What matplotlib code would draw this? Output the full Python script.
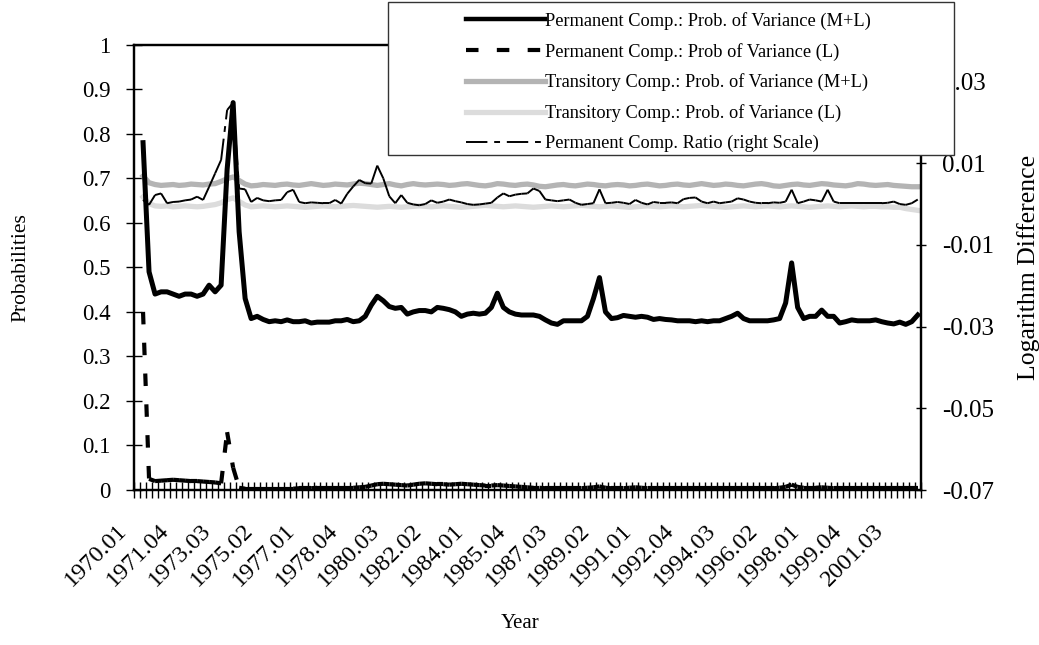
import numpy as np
import matplotlib
matplotlib.use("Agg")
import matplotlib.pyplot as plt
from matplotlib.lines import Line2D
from matplotlib.patches import Rectangle
from matplotlib.collections import LineCollection
from matplotlib.transforms import ScaledTranslation

plt.rcParams['font.family'] = ['Liberation Serif', 'DejaVu Serif']

# quarterly categories 1970.01 .. 2002.03 (series start at 1970.02)
quarters = [f"{1970 + k // 4}.{k % 4 + 1:02d}" for k in range(131)]

# Permanent comp.: prob. of variance (M+L)
perm_ml = [0.78, 0.49, 0.44, 0.445, 0.445, 0.44, 0.435, 0.44, 0.44, 0.435,
           0.44, 0.46, 0.445, 0.46, 0.72, 0.87, 0.58, 0.43, 0.385, 0.39,
           0.383, 0.378, 0.38, 0.378, 0.382, 0.378, 0.378, 0.38, 0.375, 0.377,
           0.377, 0.377, 0.38, 0.38, 0.383, 0.378, 0.38, 0.39, 0.415, 0.435,
           0.425, 0.412, 0.408, 0.41, 0.395, 0.40, 0.403, 0.403, 0.40, 0.41,
           0.408, 0.405, 0.40, 0.39, 0.395, 0.397, 0.395, 0.397, 0.41, 0.442,
           0.41, 0.40, 0.395, 0.393, 0.393, 0.393, 0.39, 0.382, 0.375, 0.372,
           0.38, 0.38, 0.38, 0.38, 0.39, 0.43, 0.477, 0.40, 0.385, 0.387,
           0.392, 0.39, 0.388, 0.39, 0.388, 0.383, 0.385, 0.383, 0.382, 0.38,
           0.38, 0.38, 0.378, 0.38, 0.378, 0.38, 0.38, 0.385, 0.39, 0.397,
           0.385, 0.38, 0.38, 0.38, 0.38, 0.382, 0.385, 0.42, 0.51, 0.41,
           0.385, 0.39, 0.39, 0.404, 0.39, 0.39, 0.375, 0.378, 0.382, 0.38,
           0.38, 0.38, 0.382, 0.378, 0.375, 0.373, 0.377, 0.372, 0.378, 0.393]

# Permanent comp.: prob of variance (L)
perm_l = [0.40, 0.025, 0.02, 0.021, 0.022, 0.023, 0.022, 0.021, 0.02, 0.02,
          0.019, 0.018, 0.017, 0.015, 0.13, 0.05, 0.005, 0.003, 0.003, 0.003,
          0.003, 0.003, 0.003, 0.003, 0.003, 0.003, 0.004, 0.004, 0.004, 0.005,
          0.005, 0.005, 0.005, 0.005, 0.005, 0.005, 0.006, 0.007, 0.01, 0.013,
          0.014, 0.013, 0.012, 0.011, 0.01, 0.012, 0.014, 0.015, 0.014, 0.013,
          0.013, 0.012, 0.013, 0.014, 0.013, 0.012, 0.011, 0.01, 0.01, 0.011,
          0.01, 0.009, 0.008, 0.007, 0.006, 0.005, 0.005, 0.004, 0.004, 0.004,
          0.004, 0.004, 0.004, 0.004, 0.005, 0.006, 0.008, 0.005, 0.004, 0.004,
          0.004, 0.005, 0.006, 0.005, 0.004, 0.004, 0.004, 0.004, 0.004, 0.004,
          0.004, 0.004, 0.004, 0.004, 0.004, 0.004, 0.004, 0.004, 0.004, 0.004,
          0.004, 0.004, 0.004, 0.004, 0.004, 0.004, 0.005, 0.007, 0.012, 0.007,
          0.005, 0.005, 0.005, 0.006, 0.005, 0.004, 0.004, 0.004, 0.004, 0.004,
          0.004, 0.004, 0.004, 0.004, 0.004, 0.004, 0.004, 0.004, 0.004, 0.004]

# Transitory comp.: prob. of variance (M+L)
trans_ml = [0.705, 0.69, 0.686, 0.684, 0.685, 0.686, 0.684, 0.685, 0.687, 0.686,
            0.685, 0.687, 0.688, 0.693, 0.699, 0.703, 0.695, 0.687, 0.683, 0.684,
            0.686, 0.685, 0.684, 0.686, 0.687, 0.685, 0.684, 0.686, 0.688, 0.686,
            0.684, 0.685, 0.687, 0.686, 0.685, 0.687, 0.689, 0.688, 0.686, 0.684,
            0.686, 0.688, 0.685, 0.683, 0.686, 0.688, 0.686, 0.685, 0.686, 0.687,
            0.686, 0.684, 0.685, 0.687, 0.688, 0.686, 0.684, 0.683, 0.685, 0.688,
            0.687, 0.685, 0.684, 0.686, 0.687, 0.685, 0.682, 0.681, 0.683, 0.685,
            0.686, 0.684, 0.683, 0.685, 0.687, 0.686, 0.684, 0.683, 0.685, 0.686,
            0.685, 0.683, 0.684, 0.686, 0.687, 0.685, 0.683, 0.684, 0.686, 0.687,
            0.685, 0.684, 0.686, 0.688, 0.686, 0.684, 0.685, 0.687, 0.686, 0.684,
            0.683, 0.685, 0.687, 0.688, 0.686, 0.683, 0.682, 0.684, 0.686, 0.687,
            0.685, 0.684, 0.686, 0.688, 0.687, 0.685, 0.684, 0.683, 0.685, 0.688,
            0.687, 0.685, 0.684, 0.685, 0.686, 0.684, 0.683, 0.682, 0.681, 0.681]

# Transitory comp.: prob. of variance (L)
trans_l = [0.658, 0.643, 0.638, 0.637, 0.638, 0.636, 0.637, 0.638, 0.637, 0.636,
           0.637, 0.639, 0.641, 0.645, 0.652, 0.656, 0.648, 0.64, 0.636, 0.637,
           0.638, 0.637, 0.636, 0.637, 0.638, 0.637, 0.636, 0.635, 0.636, 0.637,
           0.638, 0.637, 0.636, 0.637, 0.638, 0.639, 0.638, 0.637, 0.636, 0.635,
           0.636, 0.637, 0.636, 0.635, 0.636, 0.637, 0.638, 0.637, 0.636, 0.637,
           0.638, 0.637, 0.636, 0.635, 0.636, 0.637, 0.638, 0.639, 0.638, 0.637,
           0.636, 0.637, 0.638, 0.637, 0.636, 0.635, 0.636, 0.637, 0.638, 0.637,
           0.636, 0.637, 0.638, 0.639, 0.638, 0.637, 0.636, 0.637, 0.638, 0.637,
           0.636, 0.635, 0.636, 0.637, 0.638, 0.637, 0.636, 0.637, 0.638, 0.637,
           0.636, 0.637, 0.638, 0.639, 0.638, 0.637, 0.636, 0.635, 0.636, 0.637,
           0.638, 0.637, 0.636, 0.637, 0.638, 0.637, 0.636, 0.637, 0.638, 0.637,
           0.636, 0.635, 0.636, 0.637, 0.638, 0.637, 0.636, 0.637, 0.638, 0.637,
           0.636, 0.637, 0.637, 0.636, 0.636, 0.635, 0.635, 0.632, 0.630, 0.628]

# Permanent comp. ratio (right scale, log difference)
perm_ratio = [0.0010, -0.0002, 0.0022, 0.0026, 0.0002, 0.0005, 0.0006, 0.0009, 0.0011, 0.0018,
              0.0010, 0.0042, 0.0075, 0.0108, 0.0230, 0.0248, 0.0038, 0.0036, 0.0005, 0.0015,
              0.0009, 0.0007, 0.0009, 0.0010, 0.0029, 0.0035, 0.0005, 0.0002, 0.0004, 0.0003,
              0.0002, 0.0002, 0.0010, 0.0001, 0.0025, 0.0043, 0.0059, 0.0051, 0.0050, 0.0094,
              0.0063, 0.0019, 0.0002, 0.0022, 0.0003, -0.0001, -0.0003, 0.0000, 0.0009, 0.0003,
              0.0006, 0.0011, 0.0007, 0.0004, 0.0000, -0.0002, -0.0001, 0.0001, 0.0003, 0.0016,
              0.0026, 0.0019, 0.0023, 0.0025, 0.0026, 0.0038, 0.0032, 0.0011, 0.0009, 0.0007,
              0.0009, 0.0011, 0.0003, -0.0002, 0.0000, 0.0002, 0.0036, 0.0002, 0.0003, 0.0005,
              0.0003, 0.0000, 0.0010, 0.0003, -0.0001, 0.0005, 0.0003, 0.0003, 0.0004, 0.0002,
              0.0012, 0.0015, 0.0016, 0.0006, 0.0002, 0.0006, 0.0002, 0.0004, 0.0006, 0.0014,
              0.0011, 0.0006, 0.0003, 0.0002, 0.0002, 0.0004, 0.0003, 0.0006, 0.0035, 0.0002,
              0.0006, 0.0011, 0.0009, 0.0006, 0.0035, 0.0006, 0.0002, 0.0002, 0.0002, 0.0002,
              0.0002, 0.0002, 0.0002, 0.0002, 0.0003, 0.0006, 0.0000, -0.0002, 0.0002, 0.0011]

left_ticks = [0, 0.1, 0.2, 0.3, 0.4, 0.5, 0.6, 0.7, 0.8, 0.9, 1]
right_ticks = [-0.07, -0.05, -0.03, -0.01, 0.01, 0.03]

labels = ['Permanent Comp.: Prob. of Variance (M+L)',
          'Permanent Comp.: Prob of Variance (L)',
          'Transitory Comp.: Prob. of Variance (M+L)',
          'Transitory Comp.: Prob. of Variance (L)',
          'Permanent Comp. Ratio (right Scale)']

DASH = (0, (3, 4.4))
DASHDOT = (0, (11, 3.5, 3, 3.5))


def segments(xv, yv):
    # one piece per interval so the dash pattern restarts each time (like Excel)
    pts = np.column_stack([xv, yv])
    return np.stack([pts[:-1], pts[1:]], axis=1)


x = np.arange(1, len(quarters))

fig = plt.figure(figsize=(10.39, 6.45), dpi=100)
ax = fig.add_axes([0.129, 0.2403, 0.7572, 0.6904])
ax2 = ax.twinx()

ax.plot(x, trans_ml, color='#b4b4b4', lw=3.8, solid_joinstyle='round')
ax.plot(x, trans_l, color='#dcdcdc', lw=3.8, solid_joinstyle='round')
ax.add_collection(LineCollection(segments(x, perm_l), colors='black', linewidths=3.0,
                                 linestyles=[DASH], capstyle='butt'))
ax.plot(x, perm_ml, color='black', lw=3.6, solid_joinstyle='round')
ax2.add_collection(LineCollection(segments(x, perm_ratio), colors='black', linewidths=1.4,
                                  linestyles=[DASHDOT], capstyle='butt'))

ax.set_xlim(-0.5, len(quarters) - 0.5)
ax.set_ylim(0, 1)
ax2.set_ylim(-0.07, 0.039)

# category tick marks at every boundary, labels every 7 quarters
ax.set_xticks(np.arange(-0.5, len(quarters), 1))
ax.set_xticklabels([])
lab_idx = list(range(0, len(quarters), 7))
ax.set_xticks(lab_idx, [quarters[i] for i in lab_idx], minor=True)
ax.tick_params(axis='x', which='major', direction='inout', length=11.5, width=1.0)
ax.tick_params(axis='x', which='minor', length=0, pad=27, labelsize=17.5)
off = ScaledTranslation(-13 / 100, 0, fig.dpi_scale_trans)
for t in ax.get_xticklabels(minor=True):
    t.set_rotation(45)
    t.set_ha('right')
    t.set_va('center')
    t.set_rotation_mode('anchor')
    t.set_transform(t.get_transform() + off)

ax.set_yticks(left_ticks, [f"{v:g}" for v in left_ticks])
ax.tick_params(axis='y', direction='inout', length=12, width=1.0, pad=11, labelsize=16.5)
ax2.set_yticks(right_ticks, [f"{v:.2f}" for v in right_ticks])
ax2.tick_params(axis='y', direction='inout', length=7, width=1.0, pad=12, labelsize=18)

for a in (ax, ax2):
    for s in a.spines.values():
        s.set_linewidth(1.6)
        s.set_color('black')

ax.set_xlabel('Year', fontsize=15)
ax.xaxis.set_label_coords(0.4907, -0.278)
ax.set_ylabel('Probabilities', fontsize=15.5)
ax.yaxis.set_label_coords(-0.132, 0.5)
ax2.set_ylabel('Logarithm Difference', fontsize=18.5)
ax2.yaxis.set_label_coords(1.122, 0.5)

# legend box drawn on top of the plot frame
fig.patches.append(Rectangle((0.3734, 0.7597), 0.5448, 0.2372, transform=fig.transFigure,
                             facecolor='white', edgecolor='#333333', lw=1.0, zorder=4))
handles = [Line2D([], [], color='black', lw=3.2),
           Line2D([], [], color='black', lw=3.0, linestyle=DASH, dash_capstyle='butt'),
           Line2D([], [], color='#b4b4b4', lw=3.8),
           Line2D([], [], color='#dcdcdc', lw=3.8),
           Line2D([], [], color='black', lw=1.4, linestyle=DASHDOT)]
leg = fig.legend(handles, labels, loc='upper left', bbox_to_anchor=(466 / 1039, 1 - 12 / 645),
                 frameon=False, fontsize=13.2, borderpad=0, borderaxespad=0,
                 handlelength=4.3, handletextpad=0.0, labelspacing=0.7)
leg.set_zorder(5)

fig.savefig('out.png', dpi=100)
